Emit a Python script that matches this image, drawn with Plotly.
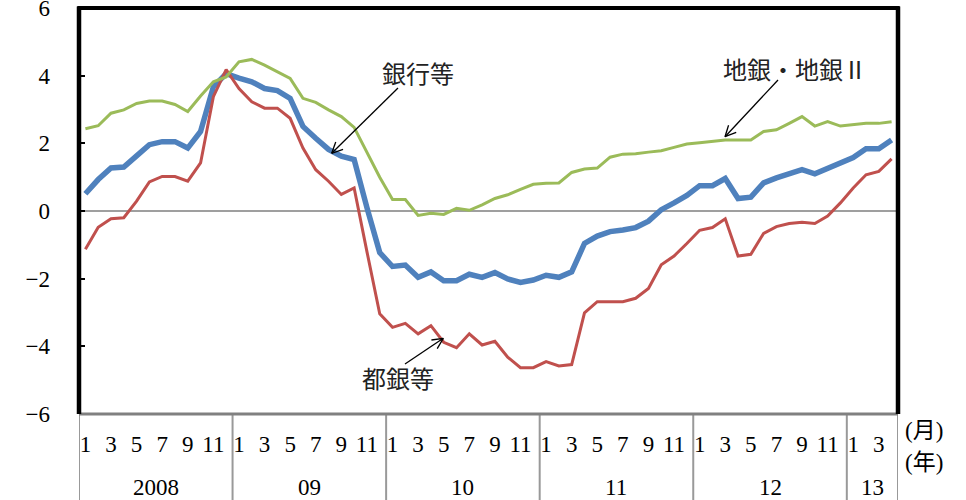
import plotly.graph_objects as go
import math

# ---------------- data ----------------
years = ["2008", "09", "10", "11", "12", "13"]
months_per_year = [12, 12, 12, 12, 12, 4]
month_tick_labels = ["1", "3", "5", "7", "9", "11"]

banks_total = [  # 銀行等 (blue)
    0.51, 0.93, 1.27, 1.30, 1.63, 1.96, 2.05, 2.05, 1.86, 2.35, 3.67, 4.06,
    3.93, 3.82, 3.62, 3.56, 3.33, 2.50, 2.15, 1.82, 1.62, 1.52, 0.10, -1.23,
    -1.64, -1.60, -1.96, -1.80, -2.06, -2.06, -1.87, -1.96, -1.82, -2.01, -2.11, -2.04,
    -1.90, -1.96, -1.80, -0.96, -0.74, -0.61, -0.56, -0.49, -0.30, 0.04, 0.24, 0.46,
    0.75, 0.75, 0.96, 0.37, 0.41, 0.83, 0.98, 1.12, 1.22, 1.10, 1.27, 1.42,
    1.58, 1.84, 1.84, 2.10,
]
city_banks = [  # 都銀等 (red)
    -1.13, -0.48, -0.23, -0.20, 0.29, 0.86, 1.02, 1.02, 0.88, 1.42, 3.38, 4.18,
    3.62, 3.23, 3.04, 3.04, 2.74, 1.86, 1.22, 0.88, 0.49, 0.68, -1.20, -3.04,
    -3.44, -3.32, -3.63, -3.39, -3.88, -4.04, -3.63, -3.96, -3.85, -4.32, -4.63, -4.63,
    -4.45, -4.58, -4.54, -3.01, -2.68, -2.68, -2.68, -2.58, -2.29, -1.59, -1.33, -0.96,
    -0.57, -0.49, -0.23, -1.33, -1.28, -0.66, -0.46, -0.37, -0.33, -0.37, -0.15, 0.24,
    0.68, 1.07, 1.17, 1.54,
]
regional_banks = [  # 地銀・地銀Ⅱ (green)
    2.43, 2.52, 2.89, 2.99, 3.18, 3.25, 3.25, 3.15, 2.94, 3.40, 3.82, 3.96,
    4.41, 4.48, 4.31, 4.11, 3.92, 3.33, 3.21, 2.99, 2.79, 2.47, 1.74, 1.00,
    0.34, 0.34, -0.13, -0.07, -0.10, 0.08, 0.02, 0.18, 0.37, 0.48, 0.64, 0.79,
    0.82, 0.83, 1.14, 1.24, 1.27, 1.59, 1.68, 1.69, 1.74, 1.78, 1.88, 1.98,
    2.02, 2.05, 2.10, 2.10, 2.10, 2.35, 2.40, 2.59, 2.79, 2.51, 2.64, 2.51,
    2.54, 2.59, 2.59, 2.64,
]
y_ticks = [-6, -4, -2, 0, 2, 4, 6]

# ---------------- layout constants ----------------
W, H = 966, 500
L, R, T, B = 79, 898, 8, 414
SERIF = "Liberation Serif, Noto Sans CJK JP"
FS = 23

n = len(banks_total)
x = list(range(n))

def to_paper(px, py):
    return (px - L) / (R - L), (B - py) / (B - T)

fig = go.Figure()
fig.add_trace(go.Scatter(x=x, y=banks_total, mode="lines", name="銀行等",
                         line=dict(color="#4F81BD", width=5.5)))
fig.add_trace(go.Scatter(x=x, y=city_banks, mode="lines", name="都銀等",
                         line=dict(color="#C0504D", width=3)))
fig.add_trace(go.Scatter(x=x, y=regional_banks, mode="lines", name="地銀・地銀Ⅱ",
                         line=dict(color="#9BBB59", width=3)))

# month tick positions (odd months)
tickvals, ticktext = [], []
start = 0
year_bounds = [-0.5]
year_mid = []
for yl, nm in zip(years, months_per_year):
    for m in range(nm):
        if m % 2 == 0:
            tickvals.append(start + m)
            ticktext.append(month_tick_labels[m // 2])
    year_mid.append(start + (nm - 1) / 2)
    start += nm
    year_bounds.append(start - 0.5)

shapes = []
# zero line
shapes.append(dict(type="line", xref="paper", yref="y", x0=0, x1=1, y0=0, y1=0,
                   line=dict(color="#404040", width=1.2), layer="below"))
# year separators below plot
for xb in year_bounds:
    shapes.append(dict(type="line", xref="x", yref="paper", x0=xb, x1=xb, y0=0, y1=-0.25,
                       line=dict(color="#999999", width=2)))
# frame
shapes.append(dict(type="line", xref="paper", yref="paper", x0=0, x1=1, y0=0, y1=0,
                   line=dict(color="#808080", width=3)))
shapes.append(dict(type="line", xref="paper", yref="paper", x0=0, x1=0, y0=0, y1=1.004,
                   line=dict(color="black", width=4.5)))
shapes.append(dict(type="line", xref="paper", yref="paper", x0=1, x1=1, y0=0, y1=1.004,
                   line=dict(color="black", width=4.5)))
shapes.append(dict(type="line", xref="paper", yref="paper", x0=-0.002, x1=1.002, y0=1, y1=1,
                   line=dict(color="black", width=4)))

annotations = []
# year labels
for yl, xm in zip(years, year_mid):
    annotations.append(dict(x=xm, y=-0.18, xref="x", yref="paper", text=yl, showarrow=False,
                            font=dict(family=SERIF, size=FS, color="black"),
                            xanchor="center", yanchor="middle"))
# unit labels
for txt, py in [("(月)", 430), ("(年)", 462)]:
    px_, py_ = to_paper(924, py)
    annotations.append(dict(x=px_, y=py_, xref="paper", yref="paper", text=txt, showarrow=False,
                            font=dict(family=SERIF, size=FS, color="black"),
                            xanchor="center", yanchor="middle"))

# series labels with arrows (text position in px, arrow tail & tip in px)
labels = [
    ("銀行等", (418, 75), (398, 88), (331.7, 153.3)),
    ("地銀・地銀Ⅱ", (795, 71), (778, 80), (725, 136.7)),
    ("都銀等", (398, 380), (405, 364), (443.3, 338.3)),
]
for txt, (tx, ty), (sx, sy), (ex, ey) in labels:
    px_, py_ = to_paper(tx, ty)
    annotations.append(dict(x=px_, y=py_, xref="paper", yref="paper", text=txt, showarrow=False,
                            font=dict(family=SERIF, size=24, color="#222222"),
                            xanchor="center", yanchor="middle"))
    x0p, y0p = to_paper(sx, sy)
    x1p, y1p = to_paper(ex, ey)
    shapes.append(dict(type="line", xref="paper", yref="paper", x0=x0p, y0=y0p, x1=x1p, y1=y1p,
                       line=dict(color="black", width=1.3)))
    ang = math.atan2(sy - ey, sx - ex)
    for d in (0.45, -0.45):
        hx = ex + 12 * math.cos(ang + d)
        hy = ey + 12 * math.sin(ang + d)
        hxp, hyp = to_paper(hx, hy)
        shapes.append(dict(type="line", xref="paper", yref="paper", x0=x1p, y0=y1p, x1=hxp, y1=hyp,
                           line=dict(color="black", width=1.3)))

fig.update_layout(
    width=W, height=H,
    margin=dict(l=L, r=W - R, t=T, b=H - B, pad=0, autoexpand=False),
    paper_bgcolor="white", plot_bgcolor="white",
    showlegend=False,
    shapes=shapes,
    annotations=annotations,
    font=dict(family=SERIF, size=FS, color="black"),
)
fig.update_xaxes(range=[-0.5, n - 0.5], tickvals=tickvals, ticktext=ticktext, automargin=False,
                 showgrid=False, zeroline=False, showline=False, ticks="",
                 tickfont=dict(family=SERIF, size=FS, color="black"), ticklabelstandoff=14)
fig.update_yaxes(range=[-6, 6], tickvals=y_ticks, showgrid=False, zeroline=False, showline=False,
                 ticks="inside", ticklen=6, tickwidth=1.5, tickcolor="black", automargin=False,
                 ticklabeloverflow="allow",
                 tickfont=dict(family=SERIF, size=FS, color="black"), ticklabelstandoff=28)

fig.write_html("out.html")
